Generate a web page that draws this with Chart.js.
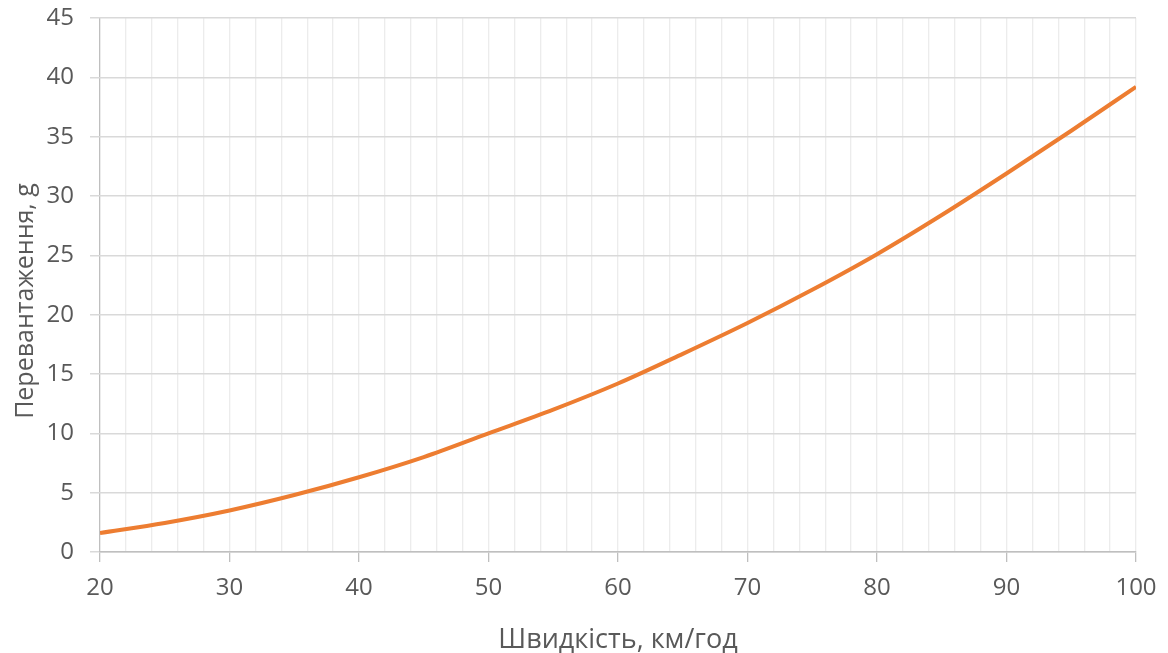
<!DOCTYPE html>
<html>
<head>
<meta charset="utf-8">
<script src="https://cdn.jsdelivr.net/npm/chart.js@4/dist/chart.umd.min.js"></script>
<style>
  html, body { margin:0; padding:0; background:#fff; }
  #wrap { width:1168px; height:653px; position:relative; }
</style>
</head>
<body>
<div id="wrap"><canvas id="chart"></canvas></div>
<script>
/* ---------- Data ---------- */
const speeds   = [20, 25, 30, 35, 40, 45, 50, 55, 60, 65, 70, 75, 80, 85, 90, 95, 100];
const overload = [1.6, 2.45, 3.5, 4.8, 6.3, 8.0, 10.0, 12.0, 14.2, 16.7, 19.3, 22.1, 25.1, 28.4, 31.9, 35.5, 39.2];
const xTitle = "Швидкість, км/год";
const yTitle = "Перевантаження, g";

const TEXT = "#595959";
const FONT = "'Open Sans', sans-serif";

const points = speeds.map((s, i) => ({ x: s, y: overload[i] }));

// axis titles drawn by hand so they sit where Excel put them
const axisTitles = {
  id: "axisTitles",
  afterDraw(c){
    const g = c.ctx, a = c.chartArea;
    g.save();
    g.fillStyle = TEXT;
    g.textAlign = "center";
    g.textBaseline = "alphabetic";
    g.font = `27px ${FONT}`;
    g.fillText(xTitle, (a.left + a.right) / 2, c.height - 5);
    g.translate(33, (a.top + a.bottom) / 2 + 16);
    g.rotate(-Math.PI / 2);
    g.font = `25px ${FONT}`;
    g.fillText(yTitle, 0, 0);
    g.restore();
  }
};

new Chart(document.getElementById("chart"), {
  type: "line",
  data: {
    datasets: [{
      data: points,
      borderColor: "#ED7D31",
      borderWidth: 4,
      pointRadius: 0,
      fill: false,
      tension: 0.4,
      cubicInterpolationMode: "monotone"
    }]
  },
  options: {
    responsive: true,
    maintainAspectRatio: false,
    animation: false,
    layout: { padding: { top: 18, right: 32, left: 0, bottom: 0 } },
    plugins: { legend: { display: false }, tooltip: { enabled: false } },
    scales: {
      x: {
        type: "linear",
        min: 20, max: 100,
        afterFit: s => { s.height = 101; s.paddingLeft = 0; s.paddingRight = 0; },
        ticks: {
          stepSize: 2, autoSkip: false, maxRotation: 0, padding: 12,
          color: TEXT, font: { family: FONT, size: 24 },
          callback: v => (v % 10 === 0 ? v : "")
        },
        grid: {
          color: c => (c.tick && c.tick.value === 20 ? "#bfbfbf" : "#ececec"),
          lineWidth: 1.3,
          tickLength: 10,
          tickColor: c => (c.tick && c.tick.value % 10 === 0 ? "#bfbfbf" : "rgba(0,0,0,0)")
        },
        border: { color: "#bfbfbf", width: 1.5 }
      },
      y: {
        min: 0, max: 45,
        afterFit: s => { s.width = 100; s.paddingTop = 0; s.paddingBottom = 0; },
        ticks: {
          stepSize: 5, padding: 16,
          color: TEXT, font: { family: FONT, size: 24 }
        },
        grid: { color: "#d9d9d9", lineWidth: 1.5, tickLength: 10, tickColor: "#d9d9d9" },
        border: { display: false }
      }
    }
  },
  plugins: [axisTitles]
});
</script>
</body>
</html>
